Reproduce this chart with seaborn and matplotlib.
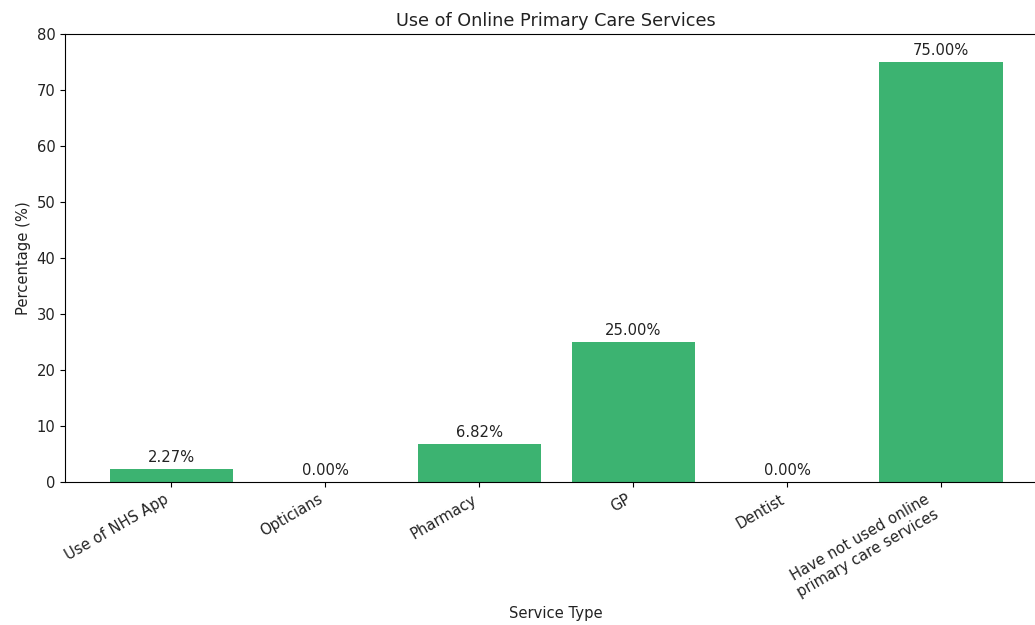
import matplotlib
matplotlib.use("Agg")
import matplotlib.pyplot as plt
import seaborn as sns
import pandas as pd

categories = ["Use of NHS App", "Opticians", "Pharmacy", "GP", "Dentist",
              "Have not used online\nprimary care services"]
values = [2.27, 0.00, 6.82, 25.00, 0.00, 75.00]

df = pd.DataFrame({"Service Type": categories, "Percentage": values})

fs = 10.6
fig = plt.figure(figsize=(10.35, 6.25), dpi=100)
ax = fig.add_axes([0.0628, 0.2288, 0.949, 0.7168])
sns.barplot(data=df, x="Service Type", y="Percentage", color="mediumseagreen",
            saturation=1, width=0.8, ax=ax)
ax.set_xlim(-0.69, 5.69)
ax.set_ylim(0, 80)
for p, v in zip(ax.patches, values):
    ax.annotate(f"{v:.2f}%", (p.get_x() + p.get_width() / 2, p.get_height()),
                xytext=(0, 3), textcoords="offset points", ha="center", va="bottom",
                fontsize=fs, color="#222222")
ax.set_title("Use of Online Primary Care Services", fontsize=12.7, color="#222222")
ax.set_xlabel("Service Type", fontsize=fs, color="#222222")
ax.set_ylabel("Percentage (%)", fontsize=fs, color="#222222")
ax.tick_params(labelsize=fs, labelcolor="#222222")
plt.setp(ax.get_xticklabels(), rotation=30, ha="right")
fig.savefig("out.png", dpi=100)
